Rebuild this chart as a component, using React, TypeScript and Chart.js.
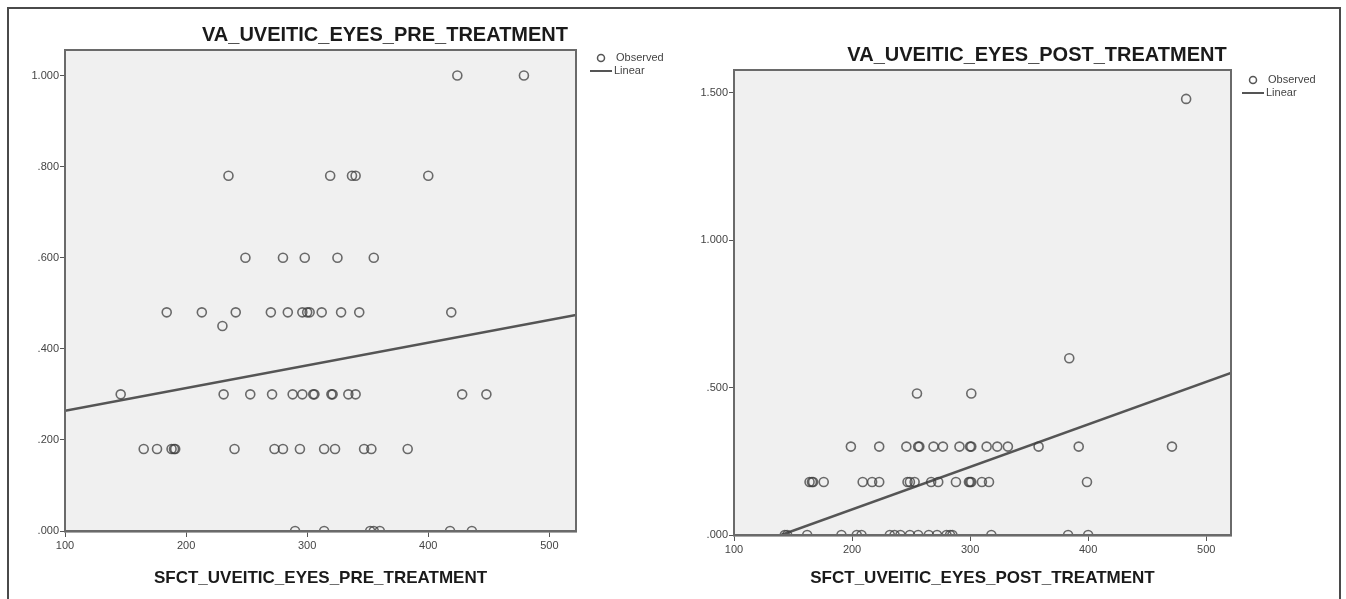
import React, { useEffect, useRef } from "react";
import { Chart, registerables } from "chart.js";

Chart.register(...registerables);

// ---- Data ----
// Pre-treatment: SFCT (x) vs VA (y)
const preSfct = [
  424, 479,
  235, 319, 337, 340, 400,
  249, 280, 298, 325, 355,
  184, 213, 241, 270, 284, 296, 300, 302, 312, 328, 343, 419,
  230,
  146, 231, 253, 271, 288, 296, 305, 306, 320, 321, 334, 340, 428, 448,
  165, 176, 188, 190, 191, 240, 273, 280, 294, 314, 323, 347, 353, 383,
  290, 314, 352, 355, 360, 418, 436,
];
const preVa = [
  1.0, 1.0,
  0.78, 0.78, 0.78, 0.78, 0.78,
  0.6, 0.6, 0.6, 0.6, 0.6,
  0.48, 0.48, 0.48, 0.48, 0.48, 0.48, 0.48, 0.48, 0.48, 0.48, 0.48, 0.48,
  0.45,
  0.3, 0.3, 0.3, 0.3, 0.3, 0.3, 0.3, 0.3, 0.3, 0.3, 0.3, 0.3, 0.3, 0.3,
  0.18, 0.18, 0.18, 0.18, 0.18, 0.18, 0.18, 0.18, 0.18, 0.18, 0.18, 0.18, 0.18, 0.18,
  0, 0, 0, 0, 0, 0, 0,
];

// Post-treatment: SFCT (x) vs VA (y)
const postSfct = [
  483,
  384,
  255, 301,
  199, 223, 246, 256, 257, 269, 277, 291, 300, 301, 314, 323, 332, 358, 392, 471,
  164, 166, 167, 176, 209, 217, 223, 247, 249, 253, 267, 273, 288, 299, 300, 301, 310, 316, 399,
  143, 145, 162, 191, 204, 208, 232, 236, 241, 249, 256, 265, 272, 280, 283, 285, 318, 383, 400,
];
const postVa = [
  1.48,
  0.6,
  0.48, 0.48,
  0.3, 0.3, 0.3, 0.3, 0.3, 0.3, 0.3, 0.3, 0.3, 0.3, 0.3, 0.3, 0.3, 0.3, 0.3, 0.3,
  0.18, 0.18, 0.18, 0.18, 0.18, 0.18, 0.18, 0.18, 0.18, 0.18, 0.18, 0.18, 0.18, 0.18, 0.18, 0.18, 0.18, 0.18, 0.18,
  0, 0, 0, 0, 0, 0, 0, 0, 0, 0, 0, 0, 0, 0, 0, 0, 0, 0, 0,
];

// Linear fit lines (end points)
const preFitX = [100, 522];
const preFitY = [0.264, 0.474];
const postFitX = [140, 521];
const postFitY = [0, 0.55];

// Ticks
const xTicks = [100, 200, 300, 400, 500];
const preYTicks = [0, 0.2, 0.4, 0.6, 0.8, 1.0];
const postYTicks = [0, 0.5, 1.0, 1.5];

const preTitle = "VA_UVEITIC_EYES_PRE_TREATMENT";
const postTitle = "VA_UVEITIC_EYES_POST_TREATMENT";
const preXTitle = "SFCT_UVEITIC_EYES_PRE_TREATMENT";
const postXTitle = "SFCT_UVEITIC_EYES_POST_TREATMENT";
const legendLabels = ["Observed", "Linear"];

const fmt = (v: number) => {
  const s = v.toFixed(3);
  return s.startsWith("0") ? s.slice(1) : s;
};

type PanelProps = {
  left: number;
  width: number;
  height: number;
  padTop: number;
  padRight: number;
  yAxisW: number;
  xAxisH: number;
  xMin: number;
  xMax: number;
  yMax: number;
  yTicks: number[];
  xs: number[];
  ys: number[];
  fitX: number[];
  fitY: number[];
  title: string;
  titleX: number;
  titleY: number;
  xTitle: string;
  xTitleY: number;
  legendX: number;
  legendY: number;
};

function Panel(p: PanelProps) {
  const ref = useRef<HTMLCanvasElement | null>(null);
  useEffect(() => {
    if (!ref.current) return;
    const decor = {
      id: "decor",
      beforeDraw(chart: any) {
        const { ctx, chartArea: a } = chart;
        ctx.save();
        ctx.fillStyle = "#f0f0f0";
        ctx.fillRect(a.left, a.top, a.right - a.left, a.bottom - a.top);
        ctx.restore();
      },
      afterDraw(chart: any) {
        const { ctx, chartArea: a } = chart;
        ctx.save();
        ctx.strokeStyle = "#6a6a6a";
        ctx.lineWidth = 2;
        ctx.strokeRect(a.left, a.top, a.right - a.left, a.bottom - a.top);
        // title
        ctx.fillStyle = "#1a1a1a";
        ctx.font = 'bold 20px "Liberation Sans", Arial, sans-serif';
        ctx.textAlign = "center";
        ctx.textBaseline = "middle";
        ctx.fillText(p.title, p.titleX, p.titleY);
        // x axis title
        ctx.font = 'bold 17px "Liberation Sans", Arial, sans-serif';
        ctx.fillText(p.xTitle, (a.left + a.right) / 2, p.xTitleY);
        // legend
        ctx.font = '11px "Liberation Sans", Arial, sans-serif';
        ctx.textAlign = "left";
        ctx.fillStyle = "#444";
        ctx.strokeStyle = "#555";
        ctx.lineWidth = 1.5;
        ctx.beginPath();
        ctx.arc(p.legendX + 11, p.legendY, 3.5, 0, Math.PI * 2);
        ctx.stroke();
        ctx.fillText(legendLabels[0], p.legendX + 26, p.legendY);
        ctx.lineWidth = 2;
        ctx.beginPath();
        ctx.moveTo(p.legendX, p.legendY + 13);
        ctx.lineTo(p.legendX + 22, p.legendY + 13);
        ctx.stroke();
        ctx.fillText(legendLabels[1], p.legendX + 24, p.legendY + 13);
        ctx.restore();
      },
    };
    const tickFont = { family: '"Liberation Sans", Arial, sans-serif', size: 11 };
    const chart = new Chart(ref.current, {
      type: "scatter",
      data: {
        datasets: [
          {
            label: legendLabels[0],
            data: p.xs.map((x, i) => ({ x, y: p.ys[i] })),
            pointRadius: 4.5,
            pointBorderWidth: 1.6,
            pointBorderColor: "rgba(60,60,60,0.75)",
            pointBackgroundColor: "rgba(0,0,0,0)",
            showLine: false,
            clip: 0,
          } as any,
          {
            label: legendLabels[1],
            data: p.fitX.map((x, i) => ({ x, y: p.fitY[i] })),
            showLine: true,
            borderColor: "#555",
            borderWidth: 2.5,
            pointRadius: 0,
            clip: 0,
          } as any,
        ],
      },
      options: {
        responsive: false,
        animation: false,
        events: [],
        layout: { padding: { left: 0, top: p.padTop, right: p.padRight, bottom: 0 } },
        plugins: { legend: { display: false }, tooltip: { enabled: false }, title: { display: false } },
        scales: {
          x: {
            type: "linear",
            min: p.xMin,
            max: p.xMax,
            afterBuildTicks: (s: any) => {
              s.ticks = xTicks.map((value) => ({ value }));
            },
            afterFit: (s: any) => {
              s.height = p.xAxisH;
            },
            grid: { display: true, drawOnChartArea: false, drawTicks: true, tickLength: 6, color: "#555", lineWidth: 1 },
            border: { display: true, color: "#555", width: 2.5 },
            ticks: { color: "#444", font: tickFont, padding: 2, maxRotation: 0, autoSkip: false, callback: (v: any) => String(v) },
          },
          y: {
            type: "linear",
            min: 0,
            max: p.yMax,
            afterBuildTicks: (s: any) => {
              s.ticks = p.yTicks.map((value) => ({ value }));
            },
            afterFit: (s: any) => {
              s.width = p.yAxisW;
            },
            grid: { display: true, drawOnChartArea: false, drawTicks: true, tickLength: 5, color: "#555", lineWidth: 1 },
            border: { display: true, color: "#555", width: 2 },
            ticks: { color: "#444", font: tickFont, padding: 1, autoSkip: false, callback: (v: any) => fmt(Number(v)) },
          },
        },
      } as any,
      plugins: [decor],
    });
    return () => chart.destroy();
  }, []);
  return (
    <canvas
      ref={ref}
      width={p.width}
      height={p.height}
      style={{ position: "absolute", left: p.left, top: 0, width: p.width, height: p.height, display: "block" }}
    />
  );
}

export default function App() {
  return (
    <div style={{ position: "fixed", left: 0, top: 0, width: 1346, height: 599, background: "#fff", overflow: "hidden" }}>
      <div
        style={{
          position: "absolute",
          left: 7,
          top: 7,
          width: 1334,
          height: 640,
          border: "2px solid #4a4a4a",
          boxSizing: "border-box",
        }}
      />
      <Panel
        left={0}
        width={680}
        height={599}
        padTop={50}
        padRight={104}
        yAxisW={65}
        xAxisH={68}
        xMin={100}
        xMax={522}
        yMax={1.056}
        yTicks={preYTicks}
        xs={preSfct}
        ys={preVa}
        fitX={preFitX}
        fitY={preFitY}
        title={preTitle}
        titleX={385}
        titleY={35}
        xTitle={preXTitle}
        xTitleY={578}
        legendX={590}
        legendY={58}
      />
      <Panel
        left={680}
        width={666}
        height={599}
        padTop={70}
        padRight={115}
        yAxisW={54}
        xAxisH={64}
        xMin={100}
        xMax={521}
        yMax={1.578}
        yTicks={postYTicks}
        xs={postSfct}
        ys={postVa}
        fitX={postFitX}
        fitY={postFitY}
        title={postTitle}
        titleX={357}
        titleY={55}
        xTitle={postXTitle}
        xTitleY={578}
        legendX={562}
        legendY={80}
      />
    </div>
  );
}
